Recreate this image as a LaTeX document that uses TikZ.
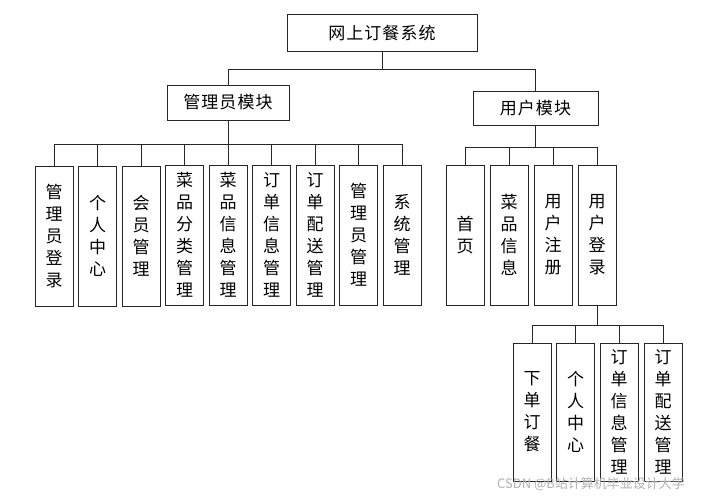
\documentclass[tikz,border=0pt]{standalone}
\usepackage{fontspec}
\newfontfamily\cjk{Noto Sans CJK SC}
\newfontfamily\cjkwide[LetterSpace=6]{Noto Sans CJK SC}
\begin{document}
\begin{tikzpicture}[x=1pt,y=-1pt,
  box/.style={draw=black!85,line width=1pt,inner sep=0pt,align=center,font=\cjk\fontsize{17}{22}\selectfont},
  topbox/.style={box,font=\cjkwide\fontsize{17}{22}\selectfont},
  leaf/.style={box,minimum width=38pt,minimum height=140pt},
  conn/.style={draw=black!85,line width=0.9pt}]
\useasboundingbox[fill=white] (0,0) rectangle (705,496);
% top levels
\node[topbox,minimum width=190pt,minimum height=37pt] (root) at (382,32.5) {网上订餐系统};
\node[topbox,minimum width=122pt,minimum height=35pt] (admin) at (228,102.5) {管理员模块};
\node[topbox,minimum width=125pt,minimum height=34pt] (user) at (535.5,108) {用户模块};
% admin children
\node[leaf] (a1) at (54,236) {管\\理\\员\\登\\录};
\node[leaf] (a2) at (97.5,236) {个\\人\\中\\心};
\node[leaf] (a3) at (141,236) {会\\员\\管\\理};
\node[leaf] (a4) at (184.5,235) {菜\\品\\分\\类\\管\\理};
\node[leaf] (a5) at (228,235) {菜\\品\\信\\息\\管\\理};
\node[leaf] (a6) at (271.5,235) {订\\单\\信\\息\\管\\理};
\node[leaf] (a7) at (315,235) {订\\单\\配\\送\\管\\理};
\node[leaf] (a8) at (358.5,235) {管\\理\\员\\管\\理};
\node[leaf] (a9) at (402,235) {系\\统\\管\\理};
% user children
\node[leaf] (u1) at (465,235) {首\\页};
\node[leaf] (u2) at (509,235) {菜\\品\\信\\息};
\node[leaf] (u3) at (553,235) {用\\户\\注\\册};
\node[leaf] (u4) at (597,235) {用\\户\\登\\录};
% login children
\node[leaf,minimum height=138pt] (l1) at (532,412) {下\\单\\订\\餐};
\node[leaf,minimum height=138pt] (l2) at (575.5,412) {个\\人\\中\\心};
\node[leaf,minimum height=138pt] (l3) at (619,412) {订\\单\\信\\息\\管\\理};
\node[leaf,minimum height=138pt] (l4) at (663,412) {订\\单\\配\\送\\管\\理};
% connectors
\coordinate (rb) at (382,69);
\draw[conn] (root.south) -- (rb);
\draw[conn] (rb) -| (admin.north);
\draw[conn] (rb) -| (user.north);
\coordinate (ab) at (228,144);
\draw[conn] (admin.south) -- (ab);
\foreach \c in {a1,a2,a3,a4,a5,a6,a7,a8,a9}{\draw[conn] (ab) -| (\c.north);}
\coordinate (ub) at (535.5,147);
\draw[conn] (user.south) -- (ub);
\foreach \c in {u1,u2,u3,u4}{\draw[conn] (ub) -| (\c.north);}
\coordinate (lb) at (597,325);
\draw[conn] (u4.south) -- (lb);
\foreach \c in {l1,l2,l3,l4}{\draw[conn] (lb) -| (\c.north);}
% watermark
\node[anchor=west,inner sep=0pt,text=black!30,font=\cjk\fontsize{13}{15}\selectfont] (wm) at (497,484) {CSDN @B站计算机毕业设计大学};
\end{tikzpicture}
\end{document}
